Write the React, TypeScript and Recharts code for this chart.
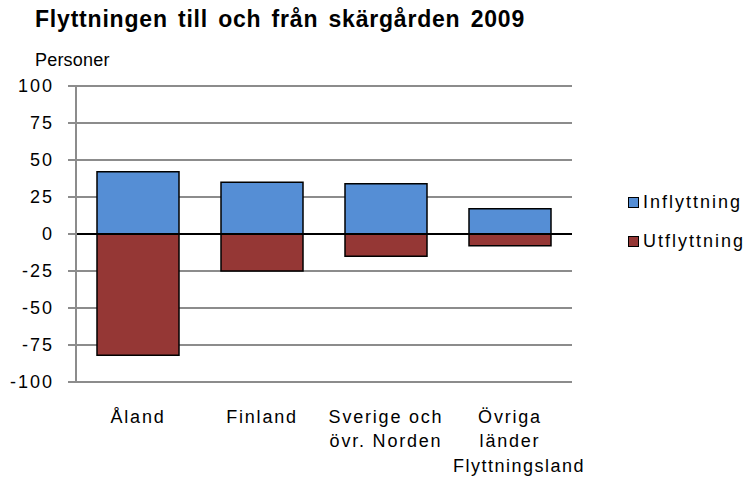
import React from 'react';
import {
  BarChart,
  Bar,
  XAxis,
  YAxis,
  CartesianGrid,
  ReferenceLine,
} from 'recharts';

// Data
const categories = ['Åland', 'Finland', 'Sverige och|övr. Norden', 'Övriga|länder'];
const inflyttning = [42, 35, 34, 17];
const utflyttning = [-82, -25, -15, -8];
const yTicks = [-100, -75, -50, -25, 0, 25, 50, 75, 100];

const seriesNames = ['Inflyttning', 'Utflyttning'];
const seriesColors = ['#558ed5', '#953735'];

const data = categories.map((name, i) => ({
  name,
  Inflyttning: inflyttning[i],
  Utflyttning: utflyttning[i],
}));

const FONT = '"Liberation Sans", Arial, sans-serif';
const GRID = '#8c8c8c';

function CategoryTick(props: any) {
  const { x, y, payload } = props;
  const lines = String(payload.value).split('|');
  return (
    <g transform={`translate(${x},${y})`}>
      {lines.map((line, i) => (
        <text
          key={i}
          x={0}
          y={33 + i * 24}
          textAnchor="middle"
          fontFamily={FONT}
          fontSize={18}
          letterSpacing={1.8}
          fill="#000"
        >
          {line}
        </text>
      ))}
    </g>
  );
}

export default function App() {
  return (
    <div
      style={{
        position: 'absolute',
        left: 0,
        top: 0,
        width: 745,
        height: 477,
        background: '#fff',
        fontFamily: FONT,
      }}
    >
      <BarChart
        width={745}
        height={477}
        data={data}
        stackOffset="sign"
        margin={{ top: 86, right: 173, left: 0, bottom: 0 }}
      >
        <CartesianGrid horizontal vertical={false} stroke={GRID} strokeWidth={2} />
        <XAxis
          dataKey="name"
          axisLine={false}
          tickLine={false}
          height={95}
          tick={<CategoryTick />}
          interval={0}
        />
        <YAxis
          domain={[-100, 100]}
          ticks={yTicks}
          width={76}
          tickSize={8}
          tickMargin={14}
          axisLine={{ stroke: GRID, strokeWidth: 2 }}
          tickLine={{ stroke: GRID, strokeWidth: 2 }}
          tick={{ fill: '#000', fontSize: 18, fontFamily: FONT, letterSpacing: 2 }}
        />
        <YAxis
          yAxisId="right"
          orientation="right"
          domain={[-100, 100]}
          width={0}
          tick={false}
          tickLine={false}
          axisLine={{ stroke: GRID, strokeWidth: 2 }}
        />
        <Bar
          dataKey="Inflyttning"
          stackId="a"
          fill={seriesColors[0]}
          stroke="#000"
          strokeWidth={1.5}
          barSize={82}
          isAnimationActive={false}
        />
        <Bar
          dataKey="Utflyttning"
          stackId="a"
          fill={seriesColors[1]}
          stroke="#000"
          strokeWidth={1.5}
          barSize={82}
          isAnimationActive={false}
        />
        <ReferenceLine y={0} stroke="#000" strokeWidth={2} />
      </BarChart>

      <div
        style={{
          position: 'absolute',
          left: 35,
          top: 6,
          fontSize: 23,
          fontWeight: 'bold',
          letterSpacing: 0.8,
          wordSpacing: 3,
          whiteSpace: 'nowrap',
        }}
      >
        Flyttningen till och från skärgården 2009
      </div>
      <div
        style={{
          position: 'absolute',
          left: 35,
          top: 50,
          fontSize: 18,
          letterSpacing: 0.2,
        }}
      >
        Personer
      </div>
      <div
        style={{
          position: 'absolute',
          left: 453,
          top: 456,
          fontSize: 18,
          letterSpacing: 1.5,
          whiteSpace: 'nowrap',
        }}
      >
        Flyttningsland
      </div>

      {seriesNames.map((name, i) => (
        <div
          key={name}
          style={{
            position: 'absolute',
            left: 628,
            top: 192 + i * 39,
            display: 'flex',
            alignItems: 'center',
            fontSize: 18,
            letterSpacing: 2,
            whiteSpace: 'nowrap',
          }}
        >
          <span
            style={{
              display: 'inline-block',
              width: 9,
              height: 9,
              background: seriesColors[i],
              border: '1.5px solid #000',
              marginRight: 4,
            }}
          />
          {name}
        </div>
      ))}
    </div>
  );
}
